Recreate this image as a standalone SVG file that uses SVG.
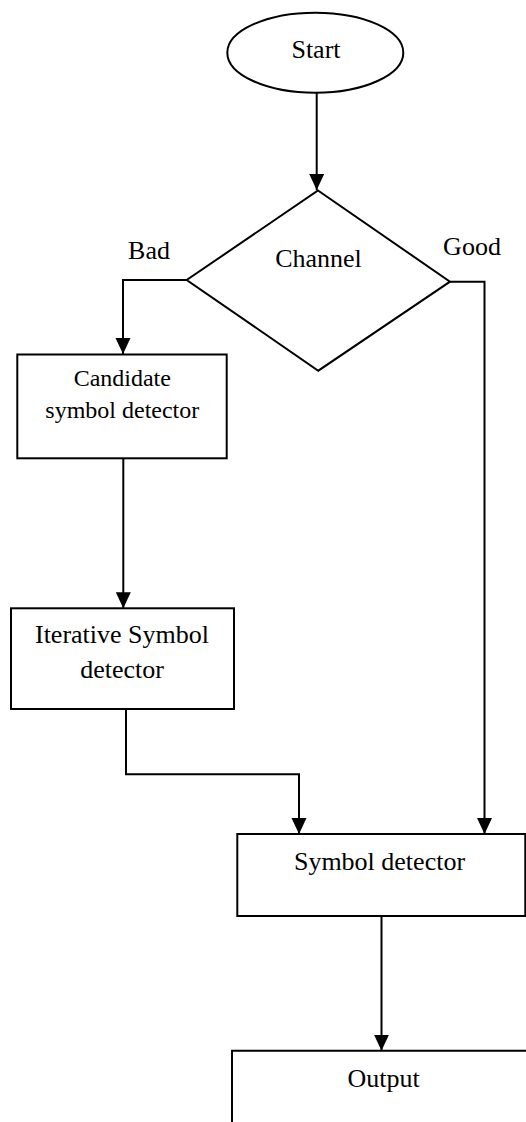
<svg xmlns="http://www.w3.org/2000/svg" width="526" height="1122" viewBox="0 0 526 1122">
  <style>
    .shape { fill: #ffffff; stroke: #000000; stroke-width: 2; }
    .open { fill: none; stroke: #000000; stroke-width: 2; }
    .conn { fill: none; stroke: #000000; stroke-width: 2; }
    .lbl { font-family: "Liberation Serif", "Times New Roman", serif; font-size: 26px; fill: #000000; text-anchor: middle; }
    .small { font-size: 24px; }
  </style>
  <defs>
    <marker id="arrow" markerUnits="userSpaceOnUse" markerWidth="16" markerHeight="16" viewBox="0 0 16 16" refX="16" refY="8" orient="auto">
      <path d="M0,0.5 L16,8 L0,15.5 z" fill="#000000"/>
    </marker>
  </defs>

  <g id="connectors">
    <line class="conn" x1="316.7" y1="93" x2="316.7" y2="190" marker-end="url(#arrow)"/>
    <polyline class="conn" points="186.7,280 123,280 123,354" marker-end="url(#arrow)"/>
    <polyline class="conn" points="450,281.7 484.5,281.7 484.5,834" marker-end="url(#arrow)"/>
    <line class="conn" x1="123.3" y1="458.3" x2="123.3" y2="608.3" marker-end="url(#arrow)"/>
    <polyline class="conn" points="126,709 126,774.3 299,774.3 299,834" marker-end="url(#arrow)"/>
    <line class="conn" x1="381.5" y1="916" x2="381.5" y2="1050.7" marker-end="url(#arrow)"/>
  </g>

  <g id="start">
    <ellipse class="shape" cx="315.3" cy="52.7" rx="88" ry="40"/>
    <text class="lbl" x="316" y="57.5">Start</text>
  </g>

  <g id="channel">
    <polygon class="shape" stroke-width="1.6" points="318,190.5 450,281.7 318.3,370.7 186.7,280"/>
    <text class="lbl" x="318.5" y="266.7">Channel</text>
  </g>

  <g id="label-bad">
    <text class="lbl" x="149" y="259">Bad</text>
  </g>
  <g id="label-good">
    <text class="lbl" x="472" y="255">Good</text>
  </g>

  <g id="candidate">
    <rect class="shape" x="17.3" y="354.5" width="209.4" height="103.8"/>
    <text class="lbl small" x="122.3" y="385.7">Candidate</text>
    <text class="lbl small" x="122.3" y="418.3">symbol detector</text>
  </g>

  <g id="iterative">
    <rect class="shape" x="11" y="608.3" width="223" height="100.7"/>
    <text class="lbl" x="122" y="643.3">Iterative Symbol</text>
    <text class="lbl" x="122" y="678.3">detector</text>
  </g>

  <g id="symbol">
    <rect class="shape" x="237.3" y="834" width="288" height="82"/>
    <text class="lbl" x="379.5" y="870">Symbol detector</text>
  </g>

  <g id="output">
    <path class="open" d="M232,1123 V1050.7 H527"/>
    <text class="lbl" x="383.5" y="1086.5">Output</text>
  </g>
</svg>
